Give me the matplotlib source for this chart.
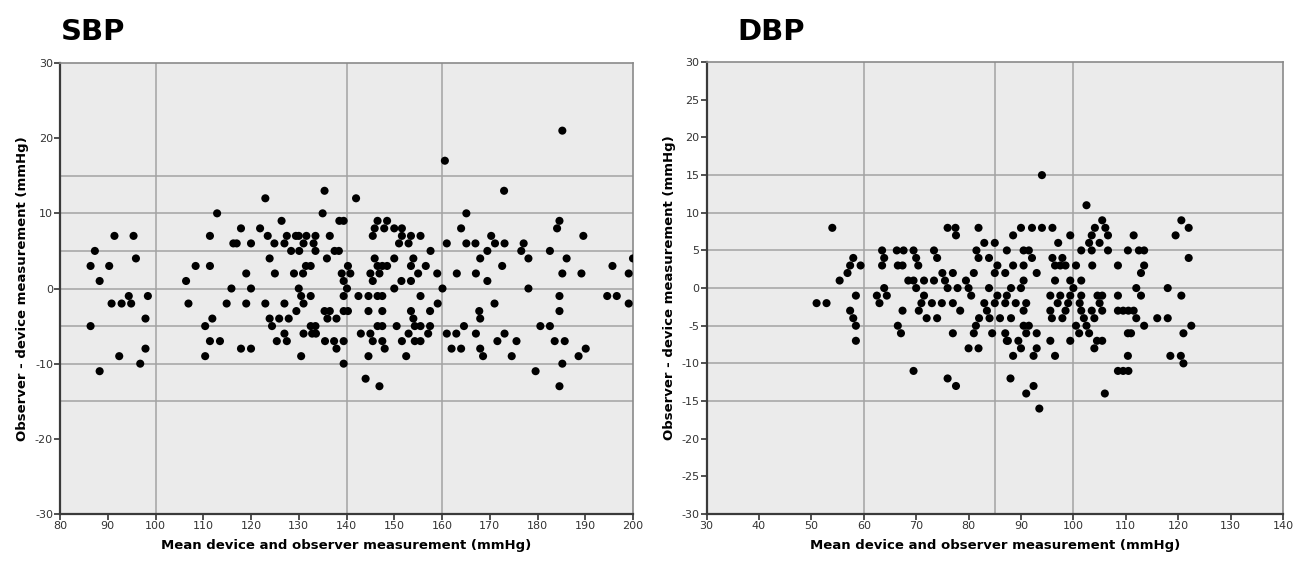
import matplotlib
matplotlib.use('Agg')
import matplotlib.pyplot as plt

plt.rcParams['axes.unicode_minus'] = False

# SBP: mean of device and observer (x), observer - device (y)
sbp_mean = [91.4, 95.4, 87.3, 95.9, 86.4, 90.3, 88.3, 94.4, 98.4, 90.8, 92.9, 94.9, 97.9, 86.4,
            97.9, 92.4, 96.8, 88.3,
            111.4, 108.4, 111.4, 106.4, 106.9, 110.4, 111.4, 110.4,
            112.9, 123.0, 135.4, 135.0, 126.4, 138.5, 139.4, 117.9, 121.9, 123.5, 127.5, 129.4,
            130.0, 131.6, 133.5, 136.5, 116.3, 117.0, 120.0, 124.9, 127.0, 131.0, 133.1, 128.4,
            130.1, 133.5, 137.5, 138.4, 123.9, 135.9, 131.5, 132.5, 119.0, 125.0, 129.0, 130.9,
            139.0, 139.4, 115.9, 120.0, 130.0, 130.5, 132.5, 139.4, 114.9, 119.0, 123.0, 127.0,
            131.0, 129.5, 135.4, 136.5, 139.4, 111.9, 123.9, 125.9, 127.9, 136.0, 137.9, 124.4,
            132.5, 133.5, 127.0, 131.0, 132.8, 133.6, 113.5, 125.4, 127.5, 135.5, 137.4, 139.4,
            137.9, 117.9, 120.0, 130.5, 139.4,
            160.6, 142.0, 165.1, 146.5, 148.5, 145.9, 147.9, 150.0, 151.6, 164.0, 145.5, 151.6,
            153.5, 155.5, 170.3, 151.0, 153.0, 161.0, 165.1, 167.0, 157.6, 169.5, 145.9, 150.0,
            154.0, 168.0, 140.3, 146.5, 147.5, 148.5, 153.5, 156.6, 140.8, 145.0, 146.9, 155.0,
            159.0, 163.1, 167.1, 145.5, 151.5, 153.5, 169.5, 140.1, 150.0, 160.1, 142.5, 144.6,
            146.5, 147.5, 155.5, 159.1, 140.3, 144.6, 147.5, 153.5, 157.5, 167.8, 154.0, 168.0,
            146.5, 147.5, 150.5, 154.3, 155.5, 157.5, 164.6, 143.0, 145.0, 153.0, 157.1, 161.0,
            163.0, 167.1, 145.5, 147.5, 151.6, 154.3, 155.5, 148.0, 162.0, 164.0, 168.0, 144.6,
            152.5, 168.6, 144.0, 146.9,
            185.2, 173.0, 184.6, 184.1, 189.6, 171.1, 173.1, 177.1, 176.6, 182.6, 178.1, 186.1,
            200.0, 172.6, 195.7, 185.2, 189.2, 199.1, 178.1, 184.6, 194.6, 196.6, 199.1, 171.0,
            184.6, 180.6, 182.6, 173.1, 171.6, 175.6, 183.6, 185.7, 190.1, 174.6, 188.6, 185.2,
            179.6, 184.6]
sbp_diff = [7, 7, 5, 4, 3, 3, 1, -1, -1, -2, -2, -2, -4, -5,
            -8, -9, -10, -11,
            7, 3, 3, 1, -2, -5, -7, -9,
            10, 12, 13, 10, 9, 9, 9, 8, 8, 7, 7, 7,
            7, 7, 7, 7, 6, 6, 6, 6, 6, 6, 6, 5,
            5, 5, 5, 5, 4, 4, 3, 3, 2, 2, 2, 2,
            2, 1, 0, 0, 0, -1, -1, -1, -2, -2, -2, -2,
            -2, -3, -3, -3, -3, -4, -4, -4, -4, -4, -4, -5,
            -5, -5, -6, -6, -6, -6, -7, -7, -7, -7, -7, -7,
            -8, -8, -8, -9, -10,
            17, 12, 10, 9, 9, 8, 8, 8, 8, 8, 7, 7,
            7, 7, 7, 6, 6, 6, 6, 6, 5, 5, 4, 4,
            4, 4, 3, 3, 3, 3, 3, 3, 2, 2, 2, 2,
            2, 2, 2, 1, 1, 1, 1, 0, 0, 0, -1, -1,
            -1, -1, -1, -2, -3, -3, -3, -3, -3, -3, -4, -4,
            -5, -5, -5, -5, -5, -5, -5, -6, -6, -6, -6, -6,
            -6, -6, -7, -7, -7, -7, -7, -8, -8, -8, -8, -9,
            -9, -9, -12, -13,
            21, 13, 9, 8, 7, 6, 6, 6, 5, 5, 4, 4,
            4, 3, 3, 2, 2, 2, 0, -1, -1, -1, -2, -2,
            -3, -5, -5, -6, -7, -7, -7, -7, -8, -9, -9, -10,
            -11, -13]

# DBP
dbp_mean = [54.0, 51.0, 52.9, 58.0, 57.4, 59.4, 56.9, 55.4, 58.5, 57.4, 58.0, 58.5, 58.5, 63.5,
            63.9, 63.5, 63.9, 64.4, 62.5, 63.0,
            76.0, 77.5, 77.6, 81.9, 83.0, 85.0, 66.3, 67.6, 69.5, 73.4, 81.5, 87.3, 70.0, 74.0,
            81.9, 83.9, 66.5, 67.4, 70.4, 85.5, 75.0, 77.0, 81.0, 85.0, 87.0, 68.5, 69.5, 71.5,
            73.4, 75.5, 79.5, 70.0, 76.0, 77.9, 80.0, 83.9, 71.5, 80.5, 85.5, 87.3, 71.0, 73.0,
            74.9, 77.0, 83.0, 85.0, 87.0, 67.4, 70.5, 78.4, 83.5, 72.0, 74.0, 82.0, 84.0, 86.0,
            66.5, 81.4, 67.1, 77.0, 81.0, 84.5, 87.0, 87.3, 80.0, 81.9, 69.5, 76.0, 77.6, 88.0,
            94.0, 102.5, 105.5, 104.1, 106.1, 90.0, 92.1, 94.0, 96.0, 88.5, 99.4, 103.5, 106.6,
            103.0, 105.0, 97.1, 90.5, 91.5, 101.5, 103.5, 106.6, 110.4, 92.1, 96.0, 97.9, 88.5,
            90.5, 96.5, 97.5, 98.5, 100.5, 103.6, 108.5, 93.0, 90.5, 96.5, 99.4, 101.5, 88.1,
            90.0, 100.0, 95.6, 97.5, 99.4, 101.5, 104.6, 105.5, 108.5, 89.0, 91.0, 97.0, 99.0,
            101.2, 105.0, 90.5, 95.6, 98.5, 101.5, 103.5, 105.5, 108.5, 109.5, 110.5, 88.1, 95.9,
            97.9, 102.0, 104.0, 90.5, 91.5, 100.5, 102.5, 91.0, 93.0, 101.1, 103.0, 110.4, 87.5,
            89.5, 95.6, 99.4, 104.5, 105.5, 90.0, 93.0, 104.0, 88.5, 92.4, 96.5, 110.4, 108.5,
            109.5, 110.5, 92.4, 91.0, 106.0, 93.5,
            120.6, 122.0, 119.5, 111.5, 112.5, 113.5, 122.0, 113.5, 112.9, 112.0, 118.0, 112.9,
            120.6, 111.5, 112.0, 116.0, 118.0, 113.5, 122.5, 111.0, 121.0, 118.5, 120.5, 121.0]
dbp_diff = [8, -2, -2, 4, 3, 3, 2, 1, -1, -3, -4, -5, -7, 5,
            4, 3, 0, -1, -1, -2,
            8, 8, 7, 8, 6, 6, 5, 5, 5, 5, 5, 5, 4, 4,
            4, 4, 3, 3, 3, 3, 2, 2, 2, 2, 2, 1, 1, 1,
            1, 1, 1, 0, 0, 0, 0, 0, -1, -1, -1, -1, -2, -2,
            -2, -2, -2, -2, -2, -3, -3, -3, -3, -4, -4, -4, -4, -4,
            -5, -5, -6, -6, -6, -6, -6, -7, -8, -8, -11, -12, -13, -12,
            15, 11, 9, 8, 8, 8, 8, 8, 8, 7, 7, 7, 7,
            6, 6, 6, 5, 5, 5, 5, 5, 5, 4, 4, 4, 3,
            3, 3, 3, 3, 3, 3, 3, 2, 1, 1, 1, 1, 0,
            0, 0, -1, -1, -1, -1, -1, -1, -1, -2, -2, -2, -2,
            -2, -2, -3, -3, -3, -3, -3, -3, -3, -3, -3, -4, -4,
            -4, -4, -4, -5, -5, -5, -5, -6, -6, -6, -6, -6, -7,
            -7, -7, -7, -7, -7, -8, -8, -8, -9, -9, -9, -9, -11,
            -11, -11, -13, -14, -14, -16,
            9, 8, 7, 7, 5, 5, 4, 3, 2, 0, 0, -1,
            -1, -3, -4, -4, -4, -5, -5, -6, -6, -9, -9, -10]

# 기준선 (SPSS reference lines)
sbp_vlines = [100, 140, 160]
dbp_vlines = [60, 85, 100]
hlines = [-15, -10, -5, 0, 5, 10, 15]

BG = '#ebebeb'
GRID = '#a3a3a3'

fig = plt.figure(figsize=(12.99, 5.62), dpi=100)
ax1 = fig.add_axes([0.0462, 0.0854, 0.4411, 0.8025])
ax2 = fig.add_axes([0.5439, 0.0854, 0.4438, 0.8040])


def draw_panel(ax, xs, ys, vlines, xlim, xstep, ystep):
    ax.set_facecolor(BG)
    for v in vlines:
        ax.axvline(v, color=GRID, lw=1.1, zorder=1)
    for h in hlines:
        ax.axhline(h, color=GRID, lw=1.1, zorder=1)
    ax.scatter(xs, ys, s=34, color='black', edgecolors='none', zorder=3)
    ax.set_xlim(*xlim)
    ax.set_ylim(-30, 30)
    ax.set_xticks(range(xlim[0], xlim[1] + 1, xstep))
    ax.set_yticks(range(-30, 31, ystep))
    ax.tick_params(direction='out', length=4, width=1.2, labelsize=8,
                   colors='#333333', pad=1)
    for side in ['left', 'bottom']:
        ax.spines[side].set_color('#3a3a3a')
        ax.spines[side].set_linewidth(1.6)
    for side in ['top', 'right']:
        ax.spines[side].set_color('#8a8a8a')
        ax.spines[side].set_linewidth(1.2)
    ax.set_xlabel('Mean device and observer measurement (mmHg)', fontsize=9.5,
                  fontweight='bold', labelpad=6)
    ax.set_ylabel('Observer - device measurement (mmHg)', fontsize=9.5,
                  fontweight='bold', labelpad=4)


draw_panel(ax1, sbp_mean, sbp_diff, sbp_vlines, (80, 200), 10, 10)
draw_panel(ax2, dbp_mean, dbp_diff, dbp_vlines, (30, 140), 10, 5)

fig.text(0.047, 0.918, 'SBP', fontsize=21, fontweight='bold', va='bottom', ha='left')
fig.text(0.568, 0.918, 'DBP', fontsize=21, fontweight='bold', va='bottom', ha='left')

fig.savefig('out.png', dpi=100, facecolor='white')
